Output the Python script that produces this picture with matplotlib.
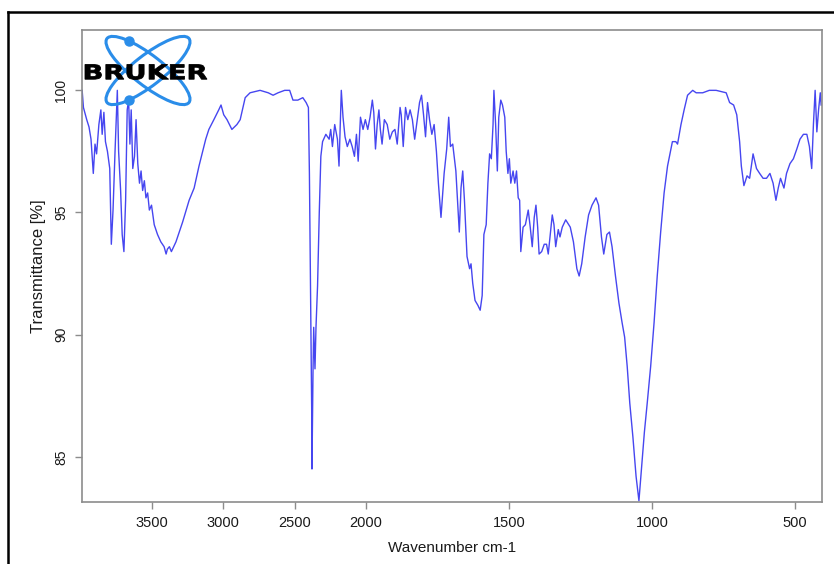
#!/usr/bin/env python3

import numpy as np
import matplotlib.pyplot as plt
from matplotlib.patches import Ellipse, PathPatch
from matplotlib.textpath import TextPath
from matplotlib.font_manager import FontProperties
from matplotlib.transforms import Affine2D
from matplotlib.lines import Line2D

## IR spectrum, read point by point (cm-1, %T)
wavenumber = [
  3985, 3976, 3953, 3937, 3923, 3907, 3895, 3884, 3868, 3854, 3845, 3833, 3822, 3808,
  3792, 3781, 3769, 3755, 3739, 3730, 3716, 3705, 3693, 3681, 3670, 3660, 3651, 3642,
  3631, 3619, 3608, 3596, 3584, 3573, 3562, 3550, 3539, 3527, 3515, 3500, 3481, 3458,
  3435, 3412, 3398, 3389, 3375, 3361, 3329, 3283, 3237, 3202, 3168, 3121, 3099, 3064,
  3030, 3014, 2995, 2972, 2938, 2903, 2880, 2845, 2811, 2741, 2684, 2650, 2615, 2569,
  2534, 2511, 2477, 2442, 2419, 2403, 2396, 2389, 2380, 2378, 2371, 2366, 2357, 2350,
  2339, 2327, 2316, 2304, 2281, 2258, 2247, 2235, 2219, 2200, 2189, 2173, 2161, 2147,
  2131, 2113, 2097, 2081, 2067, 2055, 2039, 2021, 2005, 1994, 1986, 1978, 1973, 1967,
  1961, 1955, 1950, 1944, 1936, 1926, 1917, 1908, 1899, 1891, 1881, 1877, 1870, 1862,
  1854, 1846, 1838, 1830, 1820, 1813, 1806, 1799, 1792, 1785, 1778, 1770, 1762, 1754,
  1747, 1738, 1727, 1718, 1711, 1705, 1697, 1686, 1677, 1674, 1668, 1662, 1656, 1647,
  1638, 1633, 1627, 1619, 1609, 1601, 1594, 1588, 1580, 1574, 1568, 1562, 1556, 1553,
  1547, 1541, 1536, 1529, 1523, 1515, 1510, 1504, 1499, 1494, 1486, 1480, 1474, 1468,
  1463, 1459, 1451, 1443, 1433, 1426, 1419, 1412, 1406, 1400, 1395, 1386, 1377, 1369,
  1363, 1356, 1349, 1343, 1337, 1328, 1322, 1314, 1302, 1286, 1275, 1263, 1255, 1246,
  1234, 1222, 1210, 1196, 1187, 1177, 1169, 1158, 1149, 1140, 1128, 1116, 1105, 1096,
  1087, 1078, 1067, 1056, 1046, 1037, 1027, 1017, 1005, 993, 982, 970, 958, 946,
  934, 929, 917, 911, 899, 888, 876, 858, 846, 823, 800, 776, 741, 729,
  715, 704, 694, 688, 679, 668, 659, 647, 635, 624, 612, 600, 588, 577,
  567, 559, 551, 539, 530, 518, 506, 494, 483, 471, 459, 450, 442, 436,
  430, 424, 418, 412, 409,
]
transmittance = [
  100.0, 99.3, 98.8, 98.5, 98.0, 96.6, 97.8, 97.4, 98.6, 99.2, 98.2, 99.1, 97.9, 97.5,
  96.8, 93.7, 95.1, 97.5, 100.0, 97.5, 95.9, 94.1, 93.4, 95.5, 99.2, 99.6, 97.8, 99.2,
  96.8, 97.3, 98.8, 97.0, 96.2, 96.7, 95.9, 96.3, 95.6, 95.8, 95.1, 95.3, 94.5, 94.1,
  93.8, 93.6, 93.3, 93.5, 93.6, 93.4, 93.8, 94.6, 95.5, 96.0, 96.9, 98.0, 98.4, 98.8,
  99.2, 99.4, 99.0, 98.8, 98.4, 98.6, 98.8, 99.7, 99.9, 100.0, 99.9, 99.8, 99.9, 100.0,
  100.0, 99.6, 99.6, 99.7, 99.5, 99.3, 96.6, 92.4, 86.9, 84.5, 88.4, 90.3, 88.6, 90.3,
  92.0, 95.0, 97.3, 97.9, 98.2, 98.0, 98.4, 97.7, 98.6, 98.0, 96.9, 100.0, 98.9, 98.1,
  97.7, 98.0, 97.7, 97.3, 98.2, 97.1, 98.9, 98.4, 98.8, 98.4, 98.9, 99.6, 99.1, 97.6,
  98.6, 99.2, 98.4, 97.8, 98.8, 98.6, 98.0, 98.3, 98.4, 97.8, 99.3, 99.0, 97.7, 99.3,
  98.8, 99.2, 98.8, 98.0, 98.9, 99.5, 99.8, 99.0, 98.1, 99.5, 98.8, 98.2, 98.6, 97.5,
  96.2, 94.8, 96.6, 97.6, 98.9, 97.7, 97.8, 96.7, 94.8, 94.2, 96.0, 96.7, 95.5, 93.2,
  92.7, 92.9, 92.1, 91.4, 91.2, 91.0, 91.6, 94.1, 94.5, 96.2, 97.4, 97.2, 98.6, 100.0,
  98.6, 96.7, 98.9, 99.6, 99.4, 98.9, 97.5, 96.6, 97.2, 96.2, 96.7, 96.2, 96.7, 95.6,
  95.5, 93.4, 94.4, 94.5, 95.1, 94.4, 93.6, 94.8, 95.3, 94.4, 93.3, 93.4, 93.7, 93.7,
  93.3, 94.1, 94.9, 94.5, 93.6, 94.3, 94.0, 94.4, 94.7, 94.4, 93.8, 92.7, 92.4, 92.9,
  94.0, 94.9, 95.3, 95.6, 95.3, 94.0, 93.3, 94.1, 94.2, 93.6, 92.4, 91.3, 90.5, 89.9,
  88.7, 87.2, 85.8, 84.2, 83.2, 84.5, 86.0, 87.2, 88.7, 90.5, 92.4, 94.2, 95.8, 96.9,
  97.6, 97.9, 97.9, 97.8, 98.6, 99.2, 99.8, 100.0, 99.9, 99.9, 100.0, 100.0, 99.9, 99.5,
  99.4, 99.0, 97.9, 96.9, 96.1, 96.5, 96.4, 97.4, 96.8, 96.6, 96.4, 96.4, 96.6, 96.2,
  95.5, 96.0, 96.4, 96.0, 96.6, 97.0, 97.2, 97.6, 98.0, 98.2, 98.2, 97.7, 96.8, 98.6,
  100.0, 98.3, 99.2, 99.9, 99.4,
]

xticks = [3500, 3000, 2500, 2000, 1500, 1000, 500]
yticks = [85, 90, 95, 100]

W, H = 834, 564
line_blue = '#4646f0'
axis_grey = '#8c8c8c'
text_col = '#1a1a1a'
narrow = ['Liberation Sans Narrow', 'Liberation Sans', 'DejaVu Sans']
regular = ['Liberation Sans', 'DejaVu Sans']

# wavenumbers above 2000 get half the width
def squash(w):
  w = np.asarray(w, dtype=float)
  return np.where(w > 2000, 2000 + (w - 2000) / 2, w)

def unsquash(v):
  v = np.asarray(v, dtype=float)
  return np.where(v > 2000, 2000 + (v - 2000) * 2, v)

fig = plt.figure(figsize=(W / 100, H / 100), dpi=100)
ax = fig.add_axes([82 / W, 1 - 502 / H, 740 / W, 472 / H])
ax.set_xscale('function', functions=(squash, unsquash))
ax.plot(wavenumber, transmittance, color=line_blue, lw=1.0)
ax.set_xlim(3986, 406)
ax.set_ylim(83.15, 102.47)

ax.set_xticks(xticks)
ax.set_xticklabels([str(t) for t in xticks], family=narrow, fontsize=10.5, color=text_col)
ax.set_yticks(yticks)
ax.set_yticklabels([str(t) for t in yticks], family=regular, fontsize=10, color=text_col,
                   rotation=90, va='center')
ax.minorticks_off()
ax.tick_params(direction='out', length=5, width=1, color=axis_grey, pad=5)
for s in ax.spines.values():
  s.set_color(axis_grey)
  s.set_linewidth(1.2)

ax.set_xlabel('Wavenumber cm-1', family=narrow, fontsize=11, color=text_col, labelpad=8)
ax.set_ylabel('Transmittance [%]', family=regular, fontsize=12, color=text_col, labelpad=6)

# black frame on the left and top edges
fig.add_artist(Line2D([8 / W, 8 / W], [0, 1 - 12 / H], color='black', lw=1.8,
                      transform=fig.transFigure, solid_capstyle='projecting'))
fig.add_artist(Line2D([8 / W, 1], [1 - 12 / H, 1 - 12 / H], color='black', lw=1.8,
                      transform=fig.transFigure, solid_capstyle='projecting'))

## Logo, drawn in pixel units
lax = fig.add_axes([82 / W, 1 - 110 / H, 130 / W, 80 / H])
lax.set_xlim(82, 212)
lax.set_ylim(110, 30)
lax.axis('off')
logo_blue = '#2a8de9'
cx, cy, a, b, th = 148, 70.5, 52, 15, 38
for ang in (th, -th):
  lax.add_patch(Ellipse((cx, cy), 2 * a, 2 * b, angle=ang, fill=False, ec=logo_blue, lw=2.2))
t = np.radians(230)
r = np.radians(th)
px = cx + a * np.cos(t) * np.cos(r) - b * np.sin(t) * np.sin(r)
py = cy + a * np.cos(t) * np.sin(r) + b * np.sin(t) * np.cos(r)
lax.plot([px, px], [py, 2 * cy - py], 'o', ms=6.5, color=logo_blue)

tp = TextPath((0, 0), 'BRUKER', size=20, prop=FontProperties(family='DejaVu Sans', weight='bold'))
ext = tp.get_extents()
tr = Affine2D().translate(-ext.x0, -ext.y0).scale(122 / ext.width, -15 / ext.height).translate(85, 79.5)
lax.add_patch(PathPatch(tp, transform=tr + lax.transData, fc='black', ec='black', lw=0.6, zorder=5))

fig.savefig('out.png', dpi=100)
